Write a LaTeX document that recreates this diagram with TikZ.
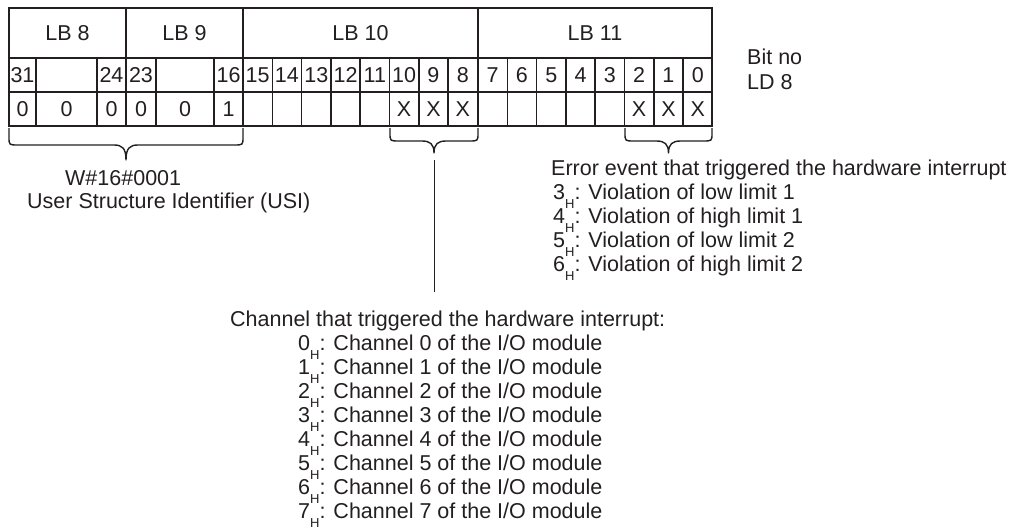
\documentclass[tikz,border=0pt]{standalone}
\usepackage{fontspec}
\setmainfont{Liberation Sans}
\definecolor{ink}{RGB}{35,31,32}
\newcommand{\hsub}{\raisebox{-9.3pt}{\fontsize{13}{13}\selectfont H}}
\newcommand{\drawbrace}[5]{%
  \draw[brc] (#1,#3) -- (#1,#4-8) .. controls (#1,#4) and (#1,#4) .. (#1+9,#4)
    -- ({(#1+#2)/2-12},#4) .. controls ({(#1+#2)/2-4},#4) and ({(#1+#2)/2},#4+3) .. ({(#1+#2)/2},#5)
    .. controls ({(#1+#2)/2},#4+3) and ({(#1+#2)/2+4},#4) .. ({(#1+#2)/2+12},#4)
    -- (#2-9,#4) .. controls (#2,#4) and (#2,#4) .. (#2,#4-8) -- (#2,#3);}
\begin{document}
\begin{tikzpicture}[x=1pt,y=-1pt,
  every node/.style={inner sep=0pt,text=ink,font=\fontsize{21.5}{24}\selectfont},
  grid/.style={draw=ink,line width=1.5pt},
  brc/.style={draw=ink,line width=1.4pt,line join=round},
  conn/.style={draw=ink,line width=1.4pt},
  cell/.style={anchor=base},
  lbl/.style={anchor=base west}]
\useasboundingbox (0,0) rectangle (1016,532);
% table frame
\draw[grid] (9,8) rectangle (711.8,126);
\draw[grid] (9,58) -- (711.8,58);
\draw[grid] (9,92) -- (711.8,92);
\foreach \x in {126,243,478}{\draw[grid] (\x,8) -- (\x,126);}
\foreach \x in {36,97,156,214}{\draw[grid] (\x,58) -- (\x,126);}
\foreach \k in {1,...,7}{
  \draw[grid] (243+29.3*\k,58) -- (243+29.3*\k,126);
  \draw[grid] (478+29.3*\k,58) -- (478+29.3*\k,126);}
% byte labels
\node[cell] (lb8) at (67.5,40.7) {LB 8};
\node[cell] (lb9) at (184.5,40.7) {LB 9};
\node[cell] (lb10) at (360.5,40.7) {LB 10};
\node[cell] (lb11) at (595,40.7) {LB 11};
% bit numbers
\node[cell] (b31) at (22.5,82.7) {31};
\node[cell] (b24) at (111.5,82.7) {24};
\node[cell] (b23) at (141,82.7) {23};
\node[cell] (b16) at (228.5,82.7) {16};
\foreach \n [count=\k from 0] in {15,14,13,12,11,10,9,8}{
  \node[cell] (b\n) at (243+29.3*\k+14.65,82.7) {\n};}
\foreach \n [count=\k from 0] in {7,6,5,4,3,2,1,0}{
  \node[cell] (b\n) at (478+29.3*\k+14.65,82.7) {\n};}
% values
\node[cell] (v1) at (22.5,116.7) {0};
\node[cell] (v2) at (66.5,116.7) {0};
\node[cell] (v3) at (111.5,116.7) {0};
\node[cell] (v4) at (141,116.7) {0};
\node[cell] (v5) at (185,116.7) {0};
\node[cell] (v6) at (228.5,116.7) {1};
\foreach \k in {5,6,7}{
  \node[cell] (xa\k) at (243+29.3*\k+14.65,116.7) {X};
  \node[cell] (xb\k) at (478+29.3*\k+14.65,116.7) {X};}
% side labels
\node[lbl] (bitno) at (747,65) {Bit no};
\node[lbl] (ld8) at (747,90) {LD 8};
% braces
\drawbrace{9}{243}{128}{145}{160}
\drawbrace{390}{478}{128}{141}{153}
\drawbrace{625}{712}{128}{141}{153}
% USI
\node[lbl] (w16) at (65,185) {W\#16\#0001};
\node[lbl] (usi) at (27,208) {User Structure Identifier (USI)};
% error event
\node[lbl] (errh) at (551,175) {Error event that triggered the hardware interrupt};
\node[lbl] (e3) at (553,199) {3\hsub: Violation of low limit 1};
\node[lbl] (e4) at (553,223) {4\hsub: Violation of high limit 1};
\node[lbl] (e5) at (553,247) {5\hsub: Violation of low limit 2};
\node[lbl] (e6) at (553,271) {6\hsub: Violation of high limit 2};
% channel
\coordinate (ctop) at (434.5,160);
\coordinate (cbot) at (434.5,292);
\draw[conn] (ctop) -- (cbot);
\node[lbl] (chh) at (230,326) {Channel that triggered the hardware interrupt:};
\foreach \c in {0,...,7}{
  \node[lbl] (ch\c) at (298,350+24*\c) {\c\hsub: Channel \c\ of the I/O module};}
\end{tikzpicture}
\end{document}
